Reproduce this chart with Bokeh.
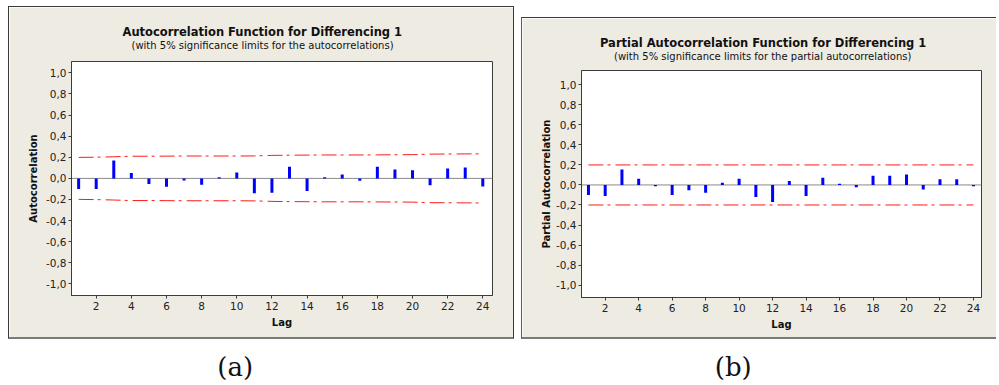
from bokeh.plotting import figure
from bokeh.models import Range1d, FixedTicker, Span, Title, Spacer, ColumnDataSource
from bokeh.layouts import row, column
from bokeh.embed import file_html
from bokeh.resources import INLINE

# ---------------- data ----------------
lags = list(range(1, 25))
acf = [-0.10, -0.10, 0.17, 0.05, -0.053, -0.08, -0.02, -0.06, 0.01, 0.056, -0.14, -0.135,
       0.11, -0.12, 0.012, 0.037, -0.022, 0.11, 0.085, 0.078, -0.065, 0.094, 0.103, -0.078]
acf_limit = [0.199, 0.201, 0.205, 0.210, 0.210, 0.211, 0.212, 0.212, 0.212, 0.212, 0.213, 0.218,
             0.220, 0.221, 0.222, 0.222, 0.222, 0.223, 0.224, 0.225, 0.230, 0.231, 0.232, 0.233]
pacf = [-0.10, -0.11, 0.155, 0.062, -0.013, -0.10, -0.052, -0.079, 0.023, 0.062, -0.12, -0.17,
        0.039, -0.11, 0.072, 0.013, -0.023, 0.092, 0.092, 0.105, -0.046, 0.056, 0.056, -0.013]
pacf_limit = [0.2, 0.2, 0.2, 0.2, 0.2, 0.2, 0.2, 0.2, 0.2, 0.2, 0.2, 0.2,
              0.2, 0.2, 0.2, 0.2, 0.2, 0.2, 0.2, 0.2, 0.2, 0.2, 0.2, 0.2]
y_ticks = [-1.0, -0.8, -0.6, -0.4, -0.2, 0.0, 0.2, 0.4, 0.6, 0.8, 1.0]
y_tick_labels = ["-1,0", "-0,8", "-0,6", "-0,4", "-0,2", "0,0", "0,2", "0,4", "0,6", "0,8", "1,0"]
x_ticks = [2, 4, 6, 8, 10, 12, 14, 16, 18, 20, 22, 24]
captions = ["(a)", "(b)"]

# ---------------- style ----------------
FONT = "DejaVu Sans"
BEIGE = "#eeebe2"
DARK = "#3c3c3c"


def panel(title, subtitle, ylabel, vals, limit, w, h, mb, xr, yr, styles, ylab_standoff,
          offs, gap_font):
    p = figure(width=w, height=h, x_range=Range1d(*xr), y_range=Range1d(*yr),
               output_backend="svg", toolbar_location=None, title=None,
               min_border_left=mb[0], min_border_right=mb[1],
               min_border_top=mb[2], min_border_bottom=mb[3],
               background_fill_color="white", border_fill_color=BEIGE,
               outline_line_color=DARK, outline_line_width=1, styles=styles)
    p.grid.visible = False
    # blank spacer title between frame and subtitle
    p.add_layout(Title(text=" ", text_font=FONT, text_font_size=gap_font, standoff=0),
                 "above")
    p.add_layout(Title(text=subtitle, align="left", offset=offs[1], text_font=FONT,
                       text_font_size="10px", text_font_style="normal",
                       text_color="#111111", standoff=2), "above")
    p.add_layout(Title(text=title, align="left", offset=offs[0], text_font=FONT,
                       text_font_size="11.5px", text_font_style="bold",
                       text_color="#111111", standoff=-4), "above")
    p.add_layout(Span(location=0, dimension="width", line_color="#8a8a8a", line_width=1,
                      level="underlay"))
    src = ColumnDataSource(dict(lag=lags, v=vals, up=limit, lo=[-x for x in limit],
                                zero=[0.0] * len(lags)))
    p.line("lag", "up", source=src, line_color="#ff1a1a", line_width=1, line_dash="15 4 3 5")
    p.line("lag", "lo", source=src, line_color="#ff1a1a", line_width=1, line_dash="15 4 3 5")
    p.segment(x0="lag", y0="zero", x1="lag", y1="v", source=src, line_color="#0000ff",
              line_width=3)

    for ax in (p.xaxis, p.yaxis):
        ax.axis_line_color = DARK
        ax.major_tick_line_color = DARK
        ax.major_tick_in = 0
        ax.major_tick_out = 3
        ax.minor_tick_line_color = None
        ax.major_label_text_font = FONT
        ax.major_label_text_font_size = "10.5px"
        ax.major_label_text_color = "#222222"
        ax.axis_label_text_font = FONT
        ax.axis_label_text_font_size = "10px"
        ax.axis_label_text_font_style = "bold"
        ax.axis_label_text_color = "#111111"
    p.xaxis.ticker = FixedTicker(ticks=x_ticks)
    p.xaxis.major_label_standoff = 3
    p.xaxis.axis_label = "Lag"
    p.xaxis.axis_label_standoff = 4
    p.yaxis.ticker = FixedTicker(ticks=y_ticks)
    p.yaxis.major_label_overrides = {t: s for t, s in zip(y_ticks, y_tick_labels)}
    p.yaxis.major_label_standoff = 2
    p.yaxis.axis_label = ylabel
    p.yaxis.axis_label_standoff = ylab_standoff
    return p


def caption(text, w, off):
    c = figure(width=w, height=43, output_backend="svg", toolbar_location=None, title=None,
               min_border_left=0, min_border_right=0, min_border_top=0, min_border_bottom=33,
               x_axis_location=None, y_axis_location=None, outline_line_color=None,
               background_fill_color="white", border_fill_color="white")
    c.grid.visible = False
    c.add_layout(Title(text=text, align="left", offset=off, text_font="DejaVu Serif",
                       text_font_size="26px", text_font_style="normal",
                       text_color="#111111", standoff=0), "below")
    return c


left_styles = {"border-left": "1px solid #3a3a3a", "border-top": "1px solid #3a3a3a",
               "border-right": "1px solid #3a3a3a", "border-bottom": "2px solid #7a7a7a"}
right_styles = {"border-left": "1px solid #5a5a5a", "border-top": "1px solid #3a3a3a",
                "border-bottom": "2px solid #7a7a7a"}

pa = panel("Autocorrelation Function for Differencing 1",
           "(with 5% significance limits for the autocorrelations)",
           "Autocorrelation", acf, acf_limit, 506, 333, (62, 23, 54, 45),
           (0.594, 24.552), (-1.11, 1.108), left_styles, 4, (51, 60), "7px")
pb = panel("Partial Autocorrelation Function for Differencing 1",
           "(with 5% significance limits for the partial autocorrelations)",
           "Partial Autocorrelation", pacf, pacf_limit, 475, 322, (59, 16, 52, 43),
           (0.584, 24.48), (-1.124, 1.143), right_styles, 1, (18.5, 32.5), "5.3px")

ca = caption(captions[0], 508, 216.8)
cb = caption(captions[1], 491, 206.3)

top = row(Spacer(width=8),
          column(Spacer(height=6), pa, spacing=0),
          Spacer(width=7),
          column(Spacer(height=17), pb, spacing=0),
          spacing=0)
layout = column(top, row(ca, cb, spacing=0), spacing=0)

open("out.html", "w").write(file_html(layout, INLINE))
